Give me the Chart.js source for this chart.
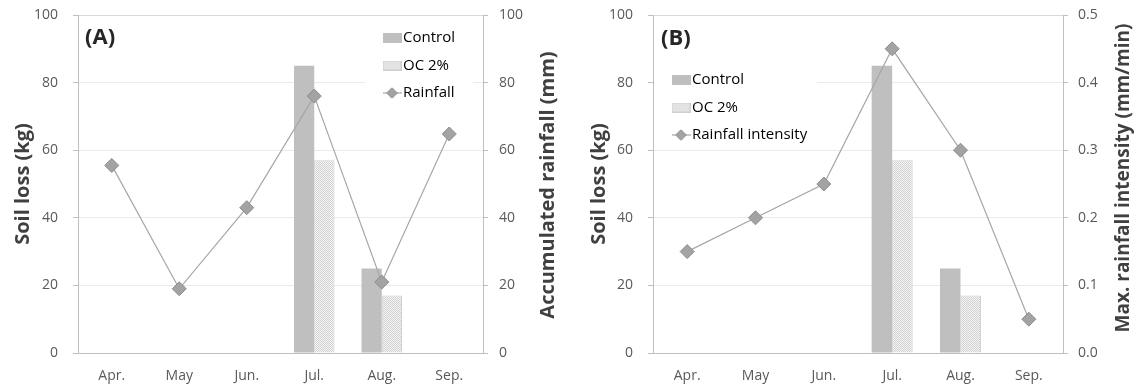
<!DOCTYPE html>
<html>
<head>
<meta charset="utf-8">
<script src="https://cdn.jsdelivr.net/npm/chart.js@4"></script>
<style>
  html, body { margin: 0; padding: 0; background: #ffffff; }
  #wrap { position: relative; width: 1136px; height: 389px; overflow: hidden; }
  .panel { position: absolute; top: 0; width: 568px; height: 389px; }
</style>
</head>
<body>
<div id="wrap">
  <div class="panel" style="left:0"><canvas id="chartA" width="568" height="389"></canvas></div>
  <div class="panel" style="left:568px"><canvas id="chartB" width="568" height="389"></canvas></div>
</div>
<script>
// ---------- data ----------
const months = ['Apr.', 'May', 'Jun.', 'Jul.', 'Aug.', 'Sep.'];
const controlLoss = [null, null, null, 85, 25, null];
const oc2Loss = [null, null, null, 57, 17, null];
const rainfallMm = [55.5, 19, 43, 76, 21, 64.8];
const intensityMmMin = [0.15, 0.2, 0.25, 0.45, 0.3, 0.05];

const soilLossRange = [0, 100, 20];      // min, max, step
const rainfallRange = [0, 100, 20];
const intensityRange = [0, 0.5, 0.1];

const legendA = ['Control', 'OC 2%', 'Rainfall'];
const legendB = ['Control', 'OC 2%', 'Rainfall intensity'];

// ---------- styles ----------
Chart.defaults.font.family = '"Open Sans", "DejaVu Sans", sans-serif';
const TICK_COLOR = '#595959';
const TITLE_COLOR = '#404040';
const AXIS_COLOR = '#bfbfbf';
const GRID_COLOR = '#ebebeb';
const TOP_GRID_COLOR = '#d9d9d9';
const CONTROL_FILL = '#bfbfbf';
const LINE_COLOR = '#a6a6a6';
const MARK_FILL = '#a3a3a3';
const MARK_BORDER = '#8c8c8c';

function makePattern() {
  const c = document.createElement('canvas');
  c.width = 4; c.height = 4;
  const g = c.getContext('2d');
  for (let y = 0; y < 4; y++) for (let x = 0; x < 4; x++) {
    g.fillStyle = ((x + y) % 2 === 0) ? '#d0d0d0' : '#f6f6f6';
    g.fillRect(x, y, 1, 1);
  }
  return document.createElement('canvas').getContext('2d').createPattern(c, 'repeat');
}
const ocPattern = makePattern();

function boxIcon(fill, stroke) {
  const c = document.createElement('canvas');
  c.width = 19; c.height = 10;
  const g = c.getContext('2d');
  g.fillStyle = fill; g.fillRect(0, 0, 19, 10);
  if (stroke) { g.strokeStyle = stroke; g.lineWidth = 1; g.strokeRect(0.5, 0.5, 18, 9); }
  return c;
}
function lineIcon() {
  const c = document.createElement('canvas');
  c.width = 19; c.height = 12;
  const g = c.getContext('2d');
  g.strokeStyle = LINE_COLOR; g.lineWidth = 1.2;
  g.beginPath(); g.moveTo(0, 6); g.lineTo(19, 6); g.stroke();
  g.beginPath(); g.moveTo(9.5, 0.8); g.lineTo(14.7, 6); g.lineTo(9.5, 11.2); g.lineTo(4.3, 6); g.closePath();
  g.fillStyle = MARK_FILL; g.fill();
  g.strokeStyle = MARK_BORDER; g.lineWidth = 1; g.stroke();
  return c;
}
const legendIcons = [boxIcon(CONTROL_FILL), boxIcon(ocPattern, '#d0d0d0'), lineIcon()];

// plugin: place the legend inside the plot, white background behind it
const legendPlace = {
  id: 'legendPlace',
  afterLayout(chart, args, o) {
    const lg = chart.legend;
    if (!lg) return;
    lg.left = o.left; lg.top = o.top;
    lg.right = lg.left + lg.width; lg.bottom = lg.top + lg.height;
    if (!lg.__wrapped) {
      const orig = lg.draw;
      lg.draw = function () {
        const ctx = chart.ctx;
        ctx.save();
        ctx.fillStyle = '#ffffff';
        ctx.fillRect(o.bg[0], o.bg[1], o.bg[2], o.bg[3]);
        ctx.restore();
        return orig.apply(this, arguments);
      };
      lg.__wrapped = true;
    }
  }
};

// plugin: panel letter and right-axis title (reading bottom to top)
const panelText = {
  id: 'panelText',
  afterDraw(chart, args, o) {
    const ctx = chart.ctx, ca = chart.chartArea, s = chart.scales.y1;
    ctx.save();
    ctx.fillStyle = '#262626';
    ctx.font = 'bold 22px "Open Sans"';
    ctx.textAlign = 'left'; ctx.textBaseline = 'middle';
    ctx.fillText(o.letter, ca.left + o.letterDx, ca.top + o.letterDy);
    ctx.translate(s.right - o.titleOffset, o.titleCy);
    ctx.rotate(-Math.PI / 2);
    ctx.fillStyle = TITLE_COLOR;
    ctx.font = 'bold ' + o.titleSize + 'px "Open Sans"';
    ctx.textAlign = 'center'; ctx.textBaseline = 'middle';
    ctx.fillText(o.title, 0, 0);
    ctx.restore();
  }
};

function makeChart(id, p) {
  return new Chart(document.getElementById(id), {
    type: 'bar',
    data: {
      labels: months,
      datasets: [
        { type: 'line', label: p.legend[2], data: p.lineData, yAxisID: 'y1', order: 0,
          borderColor: LINE_COLOR, borderWidth: 1.2, pointStyle: 'rectRot', pointRadius: 7,
          pointBackgroundColor: MARK_FILL, pointBorderColor: MARK_BORDER, pointBorderWidth: 1, tension: 0 },
        { label: p.legend[0], data: controlLoss, yAxisID: 'y', order: 1,
          backgroundColor: CONTROL_FILL, borderWidth: 0,
          categoryPercentage: 0.6, barPercentage: 1.0 },
        { label: p.legend[1], data: oc2Loss, yAxisID: 'y', order: 1,
          backgroundColor: ocPattern, borderColor: '#d0d0d0', borderWidth: 1,
          categoryPercentage: 0.6, barPercentage: 1.0 }
      ]
    },
    options: {
      responsive: false, animation: false, devicePixelRatio: 1,
      layout: { padding: { top: 15, left: 0, right: 0, bottom: 0 } },
      scales: {
        x: {
          offset: true,
          grid: { display: false, drawTicks: false },
          border: { display: true, color: AXIS_COLOR, width: 1 },
          ticks: { color: TICK_COLOR, font: { size: 14 }, padding: 15, maxRotation: 0 },
          afterFit(s) { s.height = 36; }
        },
        y: {
          position: 'left', min: soilLossRange[0], max: soilLossRange[1],
          ticks: { stepSize: soilLossRange[2], color: TICK_COLOR, font: { size: 14 }, padding: 15 },
          grid: { color: (c) => (c.tick && c.tick.value === soilLossRange[1]) ? TOP_GRID_COLOR : GRID_COLOR,
                  tickColor: AXIS_COLOR, tickLength: 5, drawTicks: true },
          border: { display: true, color: AXIS_COLOR, width: 1 },
          title: { display: true, text: 'Soil loss (kg)', color: TITLE_COLOR,
                   font: { size: 20, weight: 'bold' }, padding: { top: p.leftTitlePad, bottom: 0 } },
          afterFit(s) { s.width = p.leftW; s.paddingTop = 8; s.paddingBottom = 8; }
        },
        y1: {
          position: 'right', min: p.rightRange[0], max: p.rightRange[1],
          ticks: { stepSize: p.rightRange[2], color: TICK_COLOR, font: { size: 14 }, padding: p.rightTickPad,
                   callback: p.rightFmt },
          grid: { drawOnChartArea: false, tickColor: AXIS_COLOR, tickLength: 5, drawTicks: true },
          border: { display: true, color: AXIS_COLOR, width: 1 },
          afterFit(s) { s.width = p.rightW; s.paddingTop = 8; s.paddingBottom = 8; }
        }
      },
      plugins: {
        tooltip: { enabled: false },
        legend: {
          position: 'chartArea', align: 'start',
          labels: {
            usePointStyle: true, pointStyleWidth: 7, padding: 12.5, color: TITLE_COLOR,
            font: { size: 15 },
            generateLabels: () => p.legend.map((t, i) => ({
              text: t, pointStyle: legendIcons[i], fillStyle: 'transparent',
              strokeStyle: 'transparent', lineWidth: 0, hidden: false, datasetIndex: i
            }))
          }
        },
        legendPlace: p.legendPlace,
        panelText: p.panelText
      }
    },
    plugins: [legendPlace, panelText]
  });
}

makeChart('chartA', {
  legend: legendA, lineData: rainfallMm, rightRange: rainfallRange,
  rightFmt: (v) => v, rightTickPad: 11, leftW: 78, rightW: 85, leftTitlePad: 11,
  legendPlace: { left: 376, top: 18, bg: [365, 20, 108, 90] },
  panelText: { letter: '(A)', letterDx: 7, letterDy: 23, title: 'Accumulated rainfall (mm)',
               titleSize: 20, titleOffset: 20, titleCy: 185 }
});

makeChart('chartB', {
  legend: legendB, lineData: intensityMmMin, rightRange: intensityRange,
  rightFmt: (v) => Number(v).toFixed(1), rightTickPad: 10, leftW: 85, rightW: 73, leftTitlePad: 19,
  legendPlace: { left: 97, top: 60, bg: [87, 20, 162, 125] },
  panelText: { letter: '(B)', letterDx: 8, letterDy: 24, title: 'Max. rainfall intensity (mm/min)',
               titleSize: 19, titleOffset: 12, titleCy: 178 }
});
</script>
</body>
</html>
